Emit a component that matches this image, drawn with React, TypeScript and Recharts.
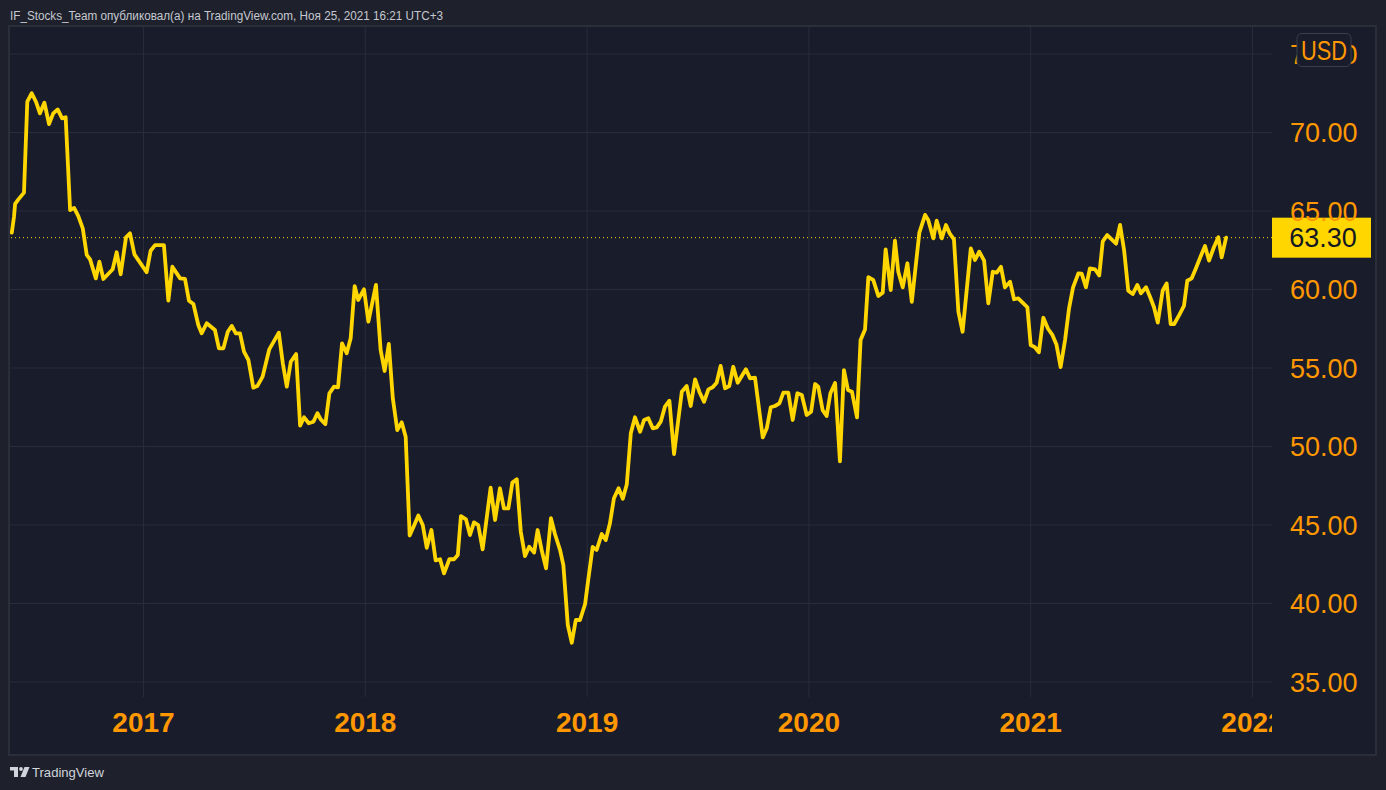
import React from 'react';
import { LineChart, Line, XAxis, YAxis, CartesianGrid, ReferenceLine } from 'recharts';

const dates = [
  2016.406, 2016.416, 2016.421, 2016.436, 2016.461, 2016.476, 2016.496, 2016.515, 2016.533, 2016.553,
  2016.574, 2016.593, 2016.613, 2016.633, 2016.649, 2016.669, 2016.687, 2016.706, 2016.726, 2016.744,
  2016.759, 2016.785, 2016.801, 2016.819, 2016.861, 2016.879, 2016.897, 2016.921, 2016.939, 2016.959,
  2017.014, 2017.032, 2017.052, 2017.092, 2017.112, 2017.130, 2017.165, 2017.187, 2017.205, 2017.225,
  2017.247, 2017.262, 2017.285, 2017.322, 2017.340, 2017.360, 2017.380, 2017.398, 2017.416, 2017.435,
  2017.453, 2017.473, 2017.495, 2017.513, 2017.537, 2017.567, 2017.610, 2017.628, 2017.646, 2017.664,
  2017.688, 2017.706, 2017.724, 2017.745, 2017.766, 2017.784, 2017.799, 2017.820, 2017.838, 2017.859,
  2017.877, 2017.895, 2017.916, 2017.934, 2017.952, 2017.968, 2017.994, 2018.014, 2018.048, 2018.069,
  2018.087, 2018.106, 2018.124, 2018.144, 2018.164, 2018.182, 2018.200, 2018.221, 2018.239, 2018.259,
  2018.277, 2018.298, 2018.317, 2018.337, 2018.355, 2018.379, 2018.400, 2018.417, 2018.431, 2018.454,
  2018.472, 2018.490, 2018.509, 2018.529, 2018.565, 2018.585, 2018.607, 2018.625, 2018.645, 2018.663,
  2018.683, 2018.701, 2018.720, 2018.739, 2018.761, 2018.777, 2018.795, 2018.815, 2018.837, 2018.855,
  2018.878, 2018.893, 2018.913, 2018.931, 2018.949, 2018.968, 2018.991, 2019.005, 2019.025, 2019.043,
  2019.066, 2019.084, 2019.103, 2019.121, 2019.142, 2019.161, 2019.179, 2019.197, 2019.216, 2019.239,
  2019.257, 2019.276, 2019.296, 2019.314, 2019.332, 2019.351, 2019.371, 2019.392, 2019.411, 2019.427,
  2019.449, 2019.467, 2019.487, 2019.506, 2019.527, 2019.547, 2019.566, 2019.584, 2019.602, 2019.622,
  2019.641, 2019.659, 2019.679, 2019.716, 2019.735, 2019.757, 2019.792, 2019.810, 2019.828, 2019.847,
  2019.867, 2019.885, 2019.907, 2019.927, 2019.948, 2019.968, 2019.990, 2020.010, 2020.028, 2020.042,
  2020.062, 2020.080, 2020.097, 2020.118, 2020.140, 2020.158, 2020.176, 2020.194, 2020.217, 2020.233,
  2020.253, 2020.268, 2020.290, 2020.313, 2020.333, 2020.346, 2020.369, 2020.388, 2020.403, 2020.423,
  2020.444, 2020.464, 2020.498, 2020.524, 2020.538, 2020.561, 2020.576, 2020.599, 2020.618, 2020.636,
  2020.654, 2020.674, 2020.693, 2020.730, 2020.749, 2020.768, 2020.790, 2020.809, 2020.829, 2020.847,
  2020.866, 2020.884, 2020.907, 2020.925, 2020.944, 2020.967, 2020.985, 2021.000, 2021.019, 2021.037,
  2021.057, 2021.078, 2021.097, 2021.116, 2021.135, 2021.155, 2021.173, 2021.191, 2021.215, 2021.230,
  2021.249, 2021.267, 2021.290, 2021.309, 2021.325, 2021.345, 2021.385, 2021.403, 2021.421, 2021.440,
  2021.460, 2021.481, 2021.497, 2021.520, 2021.538, 2021.556, 2021.573, 2021.595, 2021.613, 2021.631,
  2021.647, 2021.670, 2021.691, 2021.706, 2021.726, 2021.745, 2021.767, 2021.786, 2021.804, 2021.826,
  2021.846, 2021.861, 2021.881,
];

const prices = [
  63.62, 64.64, 65.45, 65.74, 66.17, 71.96, 72.5, 71.96, 71.22, 71.9,
  70.54, 71.22, 71.47, 70.9, 70.97, 65.06, 65.2, 64.68, 63.9, 62.2,
  61.92, 60.71, 61.77, 60.67, 61.29, 62.37, 60.97, 63.32, 63.58, 62.24,
  61.1, 62.47, 62.83, 62.83, 59.29, 61.45, 60.71, 60.67, 59.29, 59.08,
  57.74, 57.21, 57.85, 57.42, 56.25, 56.25, 57.31, 57.68, 57.21, 57.21,
  56.04, 55.51, 53.75, 53.85, 54.45, 56.19, 57.25, 55.3, 53.81, 55.4,
  55.89, 51.33, 51.86, 51.48, 51.58, 52.12, 51.73, 51.43, 53.39, 53.81,
  53.77, 56.57, 55.94, 56.89, 60.22, 59.33, 60.01, 57.95, 60.29, 56.15,
  54.81, 56.53, 53.07, 51.05, 51.54, 50.62, 44.33, 45.0, 45.6, 45.0,
  43.55, 44.68, 42.75, 42.82, 41.92, 42.82, 42.82, 43.09, 45.57, 45.36,
  44.36, 45.17, 45.0, 43.45, 47.38, 45.32, 47.34, 46.06, 46.06, 47.7,
  47.91, 44.57, 43.02, 43.62, 43.24, 44.68, 43.41, 42.24, 45.43, 44.43,
  43.41, 42.45, 38.63, 37.5, 38.95, 38.95, 39.97, 41.5, 43.6, 43.41,
  44.43, 44.04, 45.11, 46.7, 47.34, 46.67, 47.6, 50.84, 51.86, 50.94,
  51.69, 51.8, 51.16, 51.22, 51.58, 52.54, 52.92, 49.52, 51.69, 53.49,
  53.85, 52.58, 54.28, 53.49, 52.85, 53.64, 53.77, 54.06, 55.13, 53.71,
  53.85, 55.08, 54.06, 54.92, 54.34, 54.38, 50.58, 51.16, 52.5, 52.58,
  52.75, 53.43, 53.43, 51.69, 53.39, 53.28, 52.01, 52.22, 53.98, 53.81,
  52.32, 51.94, 53.39, 54.05, 49.05, 54.87, 53.6, 53.49, 51.86, 56.78,
  57.45, 60.78, 60.61, 59.59, 59.8, 62.56, 59.97, 63.11, 61.13, 60.14,
  61.67, 59.22, 63.62, 64.75, 64.43, 63.26, 64.38, 63.26, 64.11, 63.54,
  63.2, 58.59, 57.31, 62.62, 61.88, 62.41, 61.84, 59.12, 61.13, 61.07,
  61.45, 60.14, 60.5, 59.38, 59.44, 59.12, 58.87, 56.46, 56.32, 56.0,
  58.2, 57.5, 57.13, 56.5, 55.06, 56.78, 58.8, 60.14, 61.03, 61.01,
  60.14, 61.35, 61.29, 60.89, 63.07, 63.47, 62.92, 64.11, 62.52, 59.92,
  59.71, 60.29, 59.76, 60.14, 59.54, 58.87, 57.89, 59.92, 60.39, 57.8,
  57.8, 58.38, 58.95, 60.56, 60.71, 61.35, 62.13, 62.77, 61.84, 62.69,
  63.33, 62.05, 63.30,
];

const yearTicks = [2017, 2018, 2019, 2020, 2021, 2022];
const priceTicks = [35, 40, 45, 50, 55, 60, 65, 70, 75];
const lastPrice = 63.3;
const headerText = 'IF_Stocks_Team опубликовал(а) на TradingView.com, Ноя 25, 2021 16:21 UTC+3';
const currency = 'USD';
const brand = 'TradingView';

const data = dates.map((t, i) => ({ t, price: prices[i] }));

const ORANGE = '#ff9800';
const GOLD = '#ffd600';
const PANEL_BG = '#191c2b';
const OUTER_BG = '#1e212b';
const GRID = '#292d3b';
const FONT = '"Liberation Sans", Arial, sans-serif';

function YTick(props: any) {
  const { x, y, payload } = props;
  return (
    <text x={x} y={y} dy="0.36em" textAnchor="start" fill={ORANGE} fontSize={27} fontFamily={FONT}>
      {Number(payload.value).toFixed(2)}
    </text>
  );
}

function XTick(props: any) {
  const { x, y, payload } = props;
  const id = `xclip-${payload.value}`;
  return (
    <g>
      <defs>
        <clipPath id={id}>
          <rect x={0} y={0} width={1272} height={790} />
        </clipPath>
      </defs>
      <text
        x={x}
        y={y + 35}
        textAnchor="middle"
        fill={ORANGE}
        fontSize={28}
        fontWeight="bold"
        fontFamily={FONT}
        clipPath={`url(#${id})`}
      >
        {payload.value}
      </text>
    </g>
  );
}

function PriceLabel(props: any) {
  const vb = props.viewBox || {};
  const x = (vb.x || 0) + (vb.width || 0);
  const y = vb.y || 0;
  return (
    <g>
      <rect x={x} y={y - 20} width={99} height={40} fill={GOLD} />
      <text x={x + 51} y={y} dy="0.36em" textAnchor="middle" fill="#131722" fontSize={27} fontFamily={FONT}>
        {lastPrice.toFixed(2)}
      </text>
    </g>
  );
}

export default function App() {
  return (
    <div
      style={{
        position: 'fixed',
        left: 0,
        top: 0,
        width: 1386,
        height: 790,
        background: OUTER_BG,
        overflow: 'hidden',
      }}
    >
      <div
        style={{
          position: 'absolute',
          left: 8,
          top: 25,
          width: 1369,
          height: 731,
          boxSizing: 'border-box',
          border: '2px solid #2a2e39',
          background: PANEL_BG,
        }}
      />
      <div style={{ position: 'absolute', left: 0, top: 0 }}>
        <LineChart width={1386} height={790} data={data} margin={{ top: 27, right: 0, bottom: 0, left: 10 }}>
          <CartesianGrid stroke={GRID} strokeWidth={1} syncWithTicks />
          <XAxis
            dataKey="t"
            type="number"
            domain={[2016.398, 2022.088]}
            allowDataOverflow
            ticks={yearTicks}
            interval={0}
            axisLine={false}
            tickLine={false}
            tickSize={0}
            tickMargin={0}
            height={93}
            tick={XTick}
          />
          <YAxis
            orientation="right"
            type="number"
            domain={[34.045, 76.72]}
            allowDataOverflow
            ticks={priceTicks}
            interval={0}
            axisLine={false}
            tickLine={false}
            tickSize={0}
            tickMargin={18}
            width={114}
            tick={YTick}
          />
          <ReferenceLine y={lastPrice} stroke={GOLD} strokeWidth={1} strokeDasharray="1 3" label={PriceLabel} />
          <Line
            type="linear"
            dataKey="price"
            stroke={GOLD}
            strokeWidth={3.8}
            strokeLinejoin="round"
            strokeLinecap="round"
            dot={false}
            activeDot={false}
            isAnimationActive={false}
          />
        </LineChart>
      </div>
      <svg
        width={1386}
        height={790}
        style={{ position: 'absolute', left: 0, top: 0, pointerEvents: 'none' }}
      >
        <text
          x={10}
          y={20}
          fill="#c5c8d0"
          fontSize={12.5}
          fontFamily={FONT}
          textLength={433}
          lengthAdjust="spacingAndGlyphs"
        >
          {headerText}
        </text>
        <rect x={1297} y={33.5} width={54} height={33} rx={5} fill={PANEL_BG} stroke="#3b3f4b" strokeWidth={1} />
        <text
          x={1324}
          y={50}
          dy="0.36em"
          textAnchor="middle"
          fill={ORANGE}
          fontSize={27}
          fontFamily={FONT}
          textLength={46}
          lengthAdjust="spacingAndGlyphs"
        >
          {currency}
        </text>
        <g fill="#d1d4dc">
          <rect x={10} y={767} width={8} height={3.5} />
          <rect x={14} y={767} width={4} height={10} />
          <circle cx={21} cy={769} r={1.9} />
          <polygon points="24.5,767 29.5,767 25.5,777 20.5,777" />
        </g>
        <text
          x={32}
          y={777}
          fill="#d1d4dc"
          fontSize={13}
          fontFamily={FONT}
          textLength={72}
          lengthAdjust="spacingAndGlyphs"
        >
          {brand}
        </text>
      </svg>
    </div>
  );
}
